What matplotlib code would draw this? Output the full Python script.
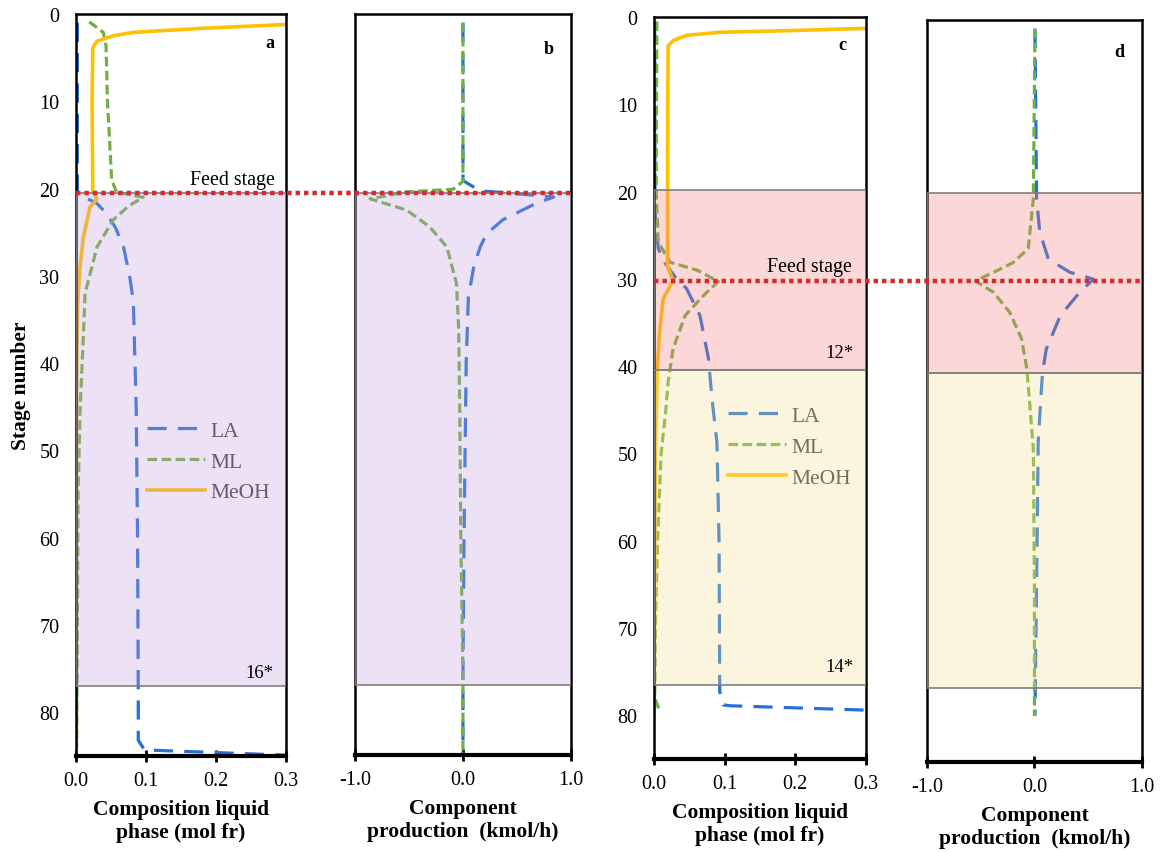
import matplotlib.pyplot as plt
from matplotlib.lines import Line2D
from matplotlib.transforms import blended_transform_factory

plt.rcParams['font.family'] = ['Liberation Serif', 'DejaVu Serif']

# ---- panel a: composition, column 1 ----
stage_la_a = [1, 20.4, 21.1, 21.7, 22.9, 24.4, 26.7, 30.2, 33, 45, 60, 78, 83.2, 84.3, 84.9]
la_a = [0.002, 0.002, 0.015, 0.030, 0.044, 0.056, 0.068, 0.077, 0.082, 0.086, 0.088, 0.089, 0.089, 0.098, 0.30]
stage_ml_a = [0.9, 2.1, 3.7, 10, 19, 20.4, 21.0, 22, 23.6, 26.7, 32, 38, 45, 55, 70, 84]
ml_a = [0.019, 0.039, 0.043, 0.045, 0.051, 0.058, 0.096, 0.075, 0.053, 0.030, 0.013, 0.010, 0.006, 0.003, 0.002, 0.001]
stage_meoh_a = [1.2, 1.65, 2.1, 2.5, 3.1, 3.9, 10, 20.3, 21.2, 22.1, 25.6, 29, 33, 40, 60, 85]
meoh_a = [0.30, 0.177, 0.082, 0.053, 0.030, 0.024, 0.023, 0.024, 0.030, 0.020, 0.0105, 0.0057, 0.0025, 0.001, 0.0005, 0.0003]

# ---- panel b: production, column 1 ----
stage_la_b = [1, 19.1, 20.3, 20.5, 21.0, 21.7, 23.6, 25.2, 26.7, 29, 32.5, 40, 60, 76, 85]
la_b = [0, 0, 0.16, 0.40, 0.84, 0.68, 0.37, 0.22, 0.16, 0.10, 0.05, 0.03, 0.01, 0.0, 0.0]
stage_ml_b = [1, 19.2, 20.1, 20.4, 21.2, 22.5, 24.4, 26.7, 30.9, 36, 45, 60, 76, 85]
ml_b = [0.0, 0.0, -0.09, -0.52, -0.86, -0.52, -0.31, -0.15, -0.06, -0.04, -0.03, -0.02, 0.0, 0.0]

# ---- panel c: composition, column 2 ----
stage_la_c = [0.5, 22.3, 26.5, 27.9, 29.8, 31.1, 34.2, 39.1, 43.7, 48.7, 60, 77.3, 78.8, 78.9, 79.4]
la_c = [0.001, 0.0014, 0.006, 0.013, 0.030, 0.046, 0.065, 0.077, 0.082, 0.089, 0.092, 0.093, 0.098, 0.108, 0.30]
stage_ml_c = [0.5, 20, 25.8, 28.1, 29.0, 30.3, 31.9, 34.2, 38, 41.8, 45.6, 50, 60, 70, 78, 79.5]
ml_c = [0.004, 0.003, 0.006, 0.023, 0.061, 0.091, 0.070, 0.044, 0.027, 0.020, 0.016, 0.010, 0.005, 0.002, 0.001, 0.008]
stage_meoh_c = [1.3, 1.57, 1.75, 2.1, 2.7, 3.3, 10, 28.5, 30.2, 32.3, 36, 40.3, 50, 65, 80]
meoh_c = [0.30, 0.188, 0.093, 0.046, 0.027, 0.020, 0.0195, 0.019, 0.027, 0.013, 0.008, 0.0047, 0.002, 0.001, 0.0]

# ---- panel d: production, column 2 ----
stage_la_d = [1, 20.5, 24.3, 27.4, 28.9, 29.7, 31.2, 33.9, 37.7, 40.4, 45.3, 48.4, 65, 79.7]
la_d = [0.005, 0.02, 0.05, 0.13, 0.33, 0.55, 0.42, 0.24, 0.11, 0.075, 0.05, 0.035, 0.02, 0.005]
stage_ml_d = [1, 20.5, 26.2, 27.8, 28.9, 29.9, 31.2, 33.5, 36.5, 40, 45.3, 49.1, 65, 79.7]
ml_d = [0.005, -0.01, -0.058, -0.20, -0.38, -0.55, -0.38, -0.23, -0.12, -0.07, -0.035, -0.01, 0.0, 0.0]

feed_1, feed_2 = 20.5, 30.2
zone_1 = (20.5, 77.0)
zone_2_top = (19.8, 40.4)
zone_2_bot = (40.4, 76.5)

c_la, c_ml, c_meoh = '#2470D4', '#6FB043', '#FFC000'
purple = (0.76, 0.62, 0.87, 0.30)
pink = (0.97, 0.49, 0.50, 0.30)
yellow = (0.97, 0.87, 0.58, 0.30)
feed_red = '#D62A2E'

fig = plt.figure(figsize=(11.6, 8.53), dpi=100)
ax_a = fig.add_axes([0.0655, 0.1125, 0.1810, 0.8699])
ax_b = fig.add_axes([0.3060, 0.1137, 0.1862, 0.8687])
ax_c = fig.add_axes([0.5638, 0.1090, 0.1828, 0.8699])
ax_d = fig.add_axes([0.7991, 0.1055, 0.1853, 0.8699])


def lines(ax, st_la, la, st_ml, ml, st_meoh=None, meoh=None):
    ax.plot(la, st_la, color=c_la, lw=2.3, dashes=(6, 3.5), label='LA', zorder=2)
    ax.plot(ml, st_ml, color=c_ml, lw=2.3, dashes=(3, 1.4), label='ML', zorder=2.1)
    if meoh is not None:
        ax.plot(meoh, st_meoh, color=c_meoh, lw=2.6, label='MeOH', zorder=2.2)


def style(ax, xlim, xticks, xlabels, xlabel, show_y):
    ax.set_xlim(*xlim)
    ax.set_ylim(85, 0)
    ax.set_xticks(xticks)
    ax.set_xticklabels(xlabels)
    ax.set_yticks(range(0, 81, 10))
    ax.tick_params(axis='x', direction='inout', length=9, width=2, labelsize=14.5, pad=6)
    ax.tick_params(axis='y', length=0, labelsize=14.5, pad=12, labelleft=show_y)
    ax.set_xlabel(xlabel, fontsize=15.5, fontweight='bold', labelpad=7, linespacing=1.15)
    for side in ['top', 'right', 'left']:
        ax.spines[side].set_linewidth(1.8)
    ax.spines['bottom'].set_linewidth(3)


def span(ax, y0, y1, fc):
    ax.axhspan(y0, y1, facecolor=fc, edgecolor='#7f7f7f', lw=1.2, zorder=3)


lines(ax_a, stage_la_a, la_a, stage_ml_a, ml_a, stage_meoh_a, meoh_a)
lines(ax_b, stage_la_b, la_b, stage_ml_b, ml_b)
lines(ax_c, stage_la_c, la_c, stage_ml_c, ml_c, stage_meoh_c, meoh_c)
lines(ax_d, stage_la_d, la_d, stage_ml_d, ml_d)

comp_label = 'Composition liquid\nphase (mol fr)'
prod_label = 'Component\nproduction  (kmol/h)'
style(ax_a, (0, 0.3), [0, 0.1, 0.2, 0.3], ['0.0', '0.1', '0.2', '0.3'], comp_label, True)
style(ax_b, (-1, 1), [-1, 0, 1], ['-1.0', '0.0', '1.0'], prod_label, False)
style(ax_c, (0, 0.3), [0, 0.1, 0.2, 0.3], ['0.0', '0.1', '0.2', '0.3'], comp_label, True)
style(ax_d, (-1, 1), [-1, 0, 1], ['-1.0', '0.0', '1.0'], prod_label, False)
ax_a.set_ylabel('Stage number', fontsize=15.5, fontweight='bold', labelpad=6)

span(ax_a, *zone_1, purple)
span(ax_b, *zone_1, purple)
span(ax_c, *zone_2_top, pink)
span(ax_c, *zone_2_bot, yellow)
span(ax_d, *zone_2_top, pink)
span(ax_d, *zone_2_bot, yellow)

# legends sit below the shaded overlay, as in the original
for ax, anchor in [(ax_a, (0.338, 0.452)), (ax_c, (0.349, 0.476))]:
    leg = ax.legend(loc='upper left', bbox_to_anchor=anchor, frameon=False, fontsize=15.5,
                    handlelength=2.7, labelspacing=0.5, borderpad=0, borderaxespad=0,
                    handletextpad=0.25)
    for t in leg.get_texts():
        t.set_color('#404040')
    leg.set_zorder(2.5)

# feed stage dotted line spanning each pair of panels (figure level, above all axes)
for left_ax, right_ax, feed in [(ax_a, ax_b, feed_1), (ax_c, ax_d, feed_2)]:
    pl, pr = left_ax.get_position(), right_ax.get_position()
    tr = blended_transform_factory(fig.transFigure, left_ax.transData)
    fig.add_artist(Line2D([pl.x0, pr.x1], [feed, feed], transform=tr, color=feed_red,
                          lw=3.2, dashes=(1, 0.9), zorder=5))

ax_a.text(0.284, 18.9, 'Feed stage', ha='right', va='center', fontsize=14.3, zorder=5)
ax_c.text(0.280, 28.6, 'Feed stage', ha='right', va='center', fontsize=14.3, zorder=5)

ax_a.text(0.277, 3.3, 'a', ha='center', va='center', fontsize=13, fontweight='bold', zorder=5)
ax_b.text(0.79, 4.0, 'b', ha='center', va='center', fontsize=13, fontweight='bold', zorder=5)
ax_c.text(0.266, 3.1, 'c', ha='center', va='center', fontsize=13, fontweight='bold', zorder=5)
ax_d.text(0.79, 3.6, 'd', ha='center', va='center', fontsize=13, fontweight='bold', zorder=5)

ax_a.text(0.282, 75.4, '16*', ha='right', va='center', fontsize=13.5, zorder=5)
ax_c.text(0.282, 38.4, '12*', ha='right', va='center', fontsize=13.5, zorder=5)
ax_c.text(0.282, 74.4, '14*', ha='right', va='center', fontsize=13.5, zorder=5)

fig.savefig('out.png', dpi=100)
